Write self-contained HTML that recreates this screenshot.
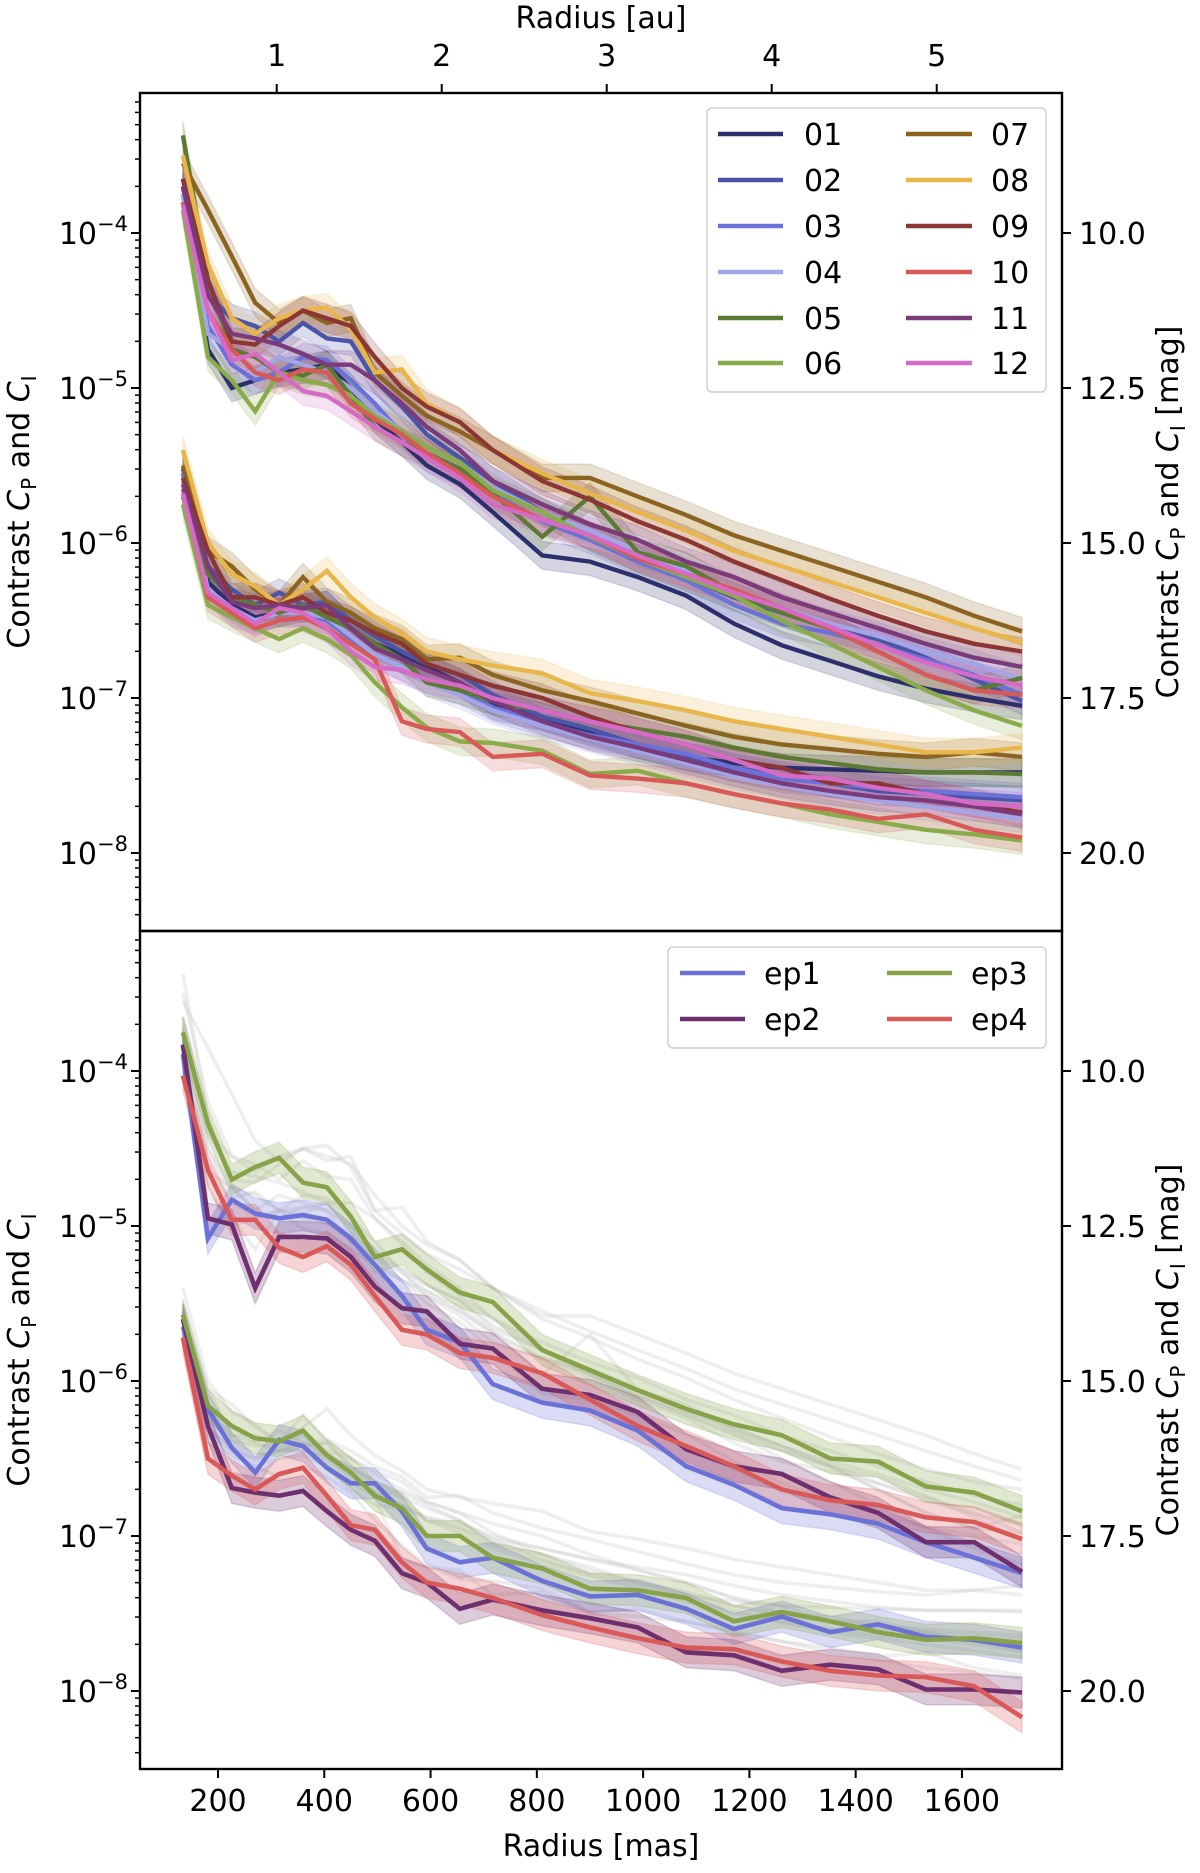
<!DOCTYPE html>
<html><head><meta charset="utf-8">
<style>
html,body{margin:0;padding:0;background:#fff;}
svg text{font-family:"DejaVu Sans","Liberation Sans",sans-serif;fill:#000;}
</style></head>
<body>
<svg id="chart" width="1200" height="1868" viewBox="0 0 1200 1868" xmlns="http://www.w3.org/2000/svg">
<defs>
<clipPath id="clipTop"><rect x="140" y="93" width="922" height="838"/></clipPath>
<clipPath id="clipBot"><rect x="140" y="931" width="922" height="838"/></clipPath>
</defs>
<g id="gTop" clip-path="url(#clipTop)"></g>
<g id="gBot" clip-path="url(#clipBot)"></g>
<g id="axes"></g>
<g id="legends"></g>
</svg>
<script>
// ---- data ----
const radiiMas = [134,181,226,270,315,360,405,450,495,546,593,655,717,810,900,990,1081,1171,1261,1352,1442,1532,1623,1713];
const seriesNames = ["01","02","03","04","05","06","07","08","09","10","11","12"];
const seriesColors = ["#2b2f6b","#4a55a8","#6a72d8","#a3a6e6","#5c7a33","#8aab4a","#8b6422","#e8b64a","#8b3535","#d95858","#7b3a7a","#d66ac6"];
// log10 contrast, upper curves (C_P)
const up01 = [-3.75,-4.75,-5.00,-4.95,-4.90,-4.88,-4.85,-5.00,-5.20,-5.35,-5.50,-5.62,-5.80,-6.08,-6.12,-6.22,-6.34,-6.52,-6.66,-6.76,-6.86,-6.94,-7.00,-7.05];
const up02 = [-3.65,-4.40,-4.55,-4.60,-4.70,-4.58,-4.68,-4.70,-4.95,-5.12,-5.30,-5.45,-5.60,-5.80,-5.96,-6.10,-6.22,-6.35,-6.45,-6.55,-6.62,-6.74,-6.88,-7.02];
const up03 = [-3.70,-4.60,-4.85,-4.95,-4.90,-4.80,-4.82,-4.95,-5.10,-5.30,-5.45,-5.55,-5.68,-5.86,-5.98,-6.12,-6.24,-6.40,-6.52,-6.58,-6.66,-6.75,-6.85,-6.98];
const up04 = [-3.75,-4.65,-4.75,-4.90,-4.80,-4.85,-4.90,-5.00,-5.15,-5.28,-5.38,-5.48,-5.64,-5.80,-5.92,-6.05,-6.18,-6.30,-6.42,-6.52,-6.60,-6.70,-6.78,-6.88];
const up05 = [-3.37,-4.30,-4.75,-4.80,-4.90,-4.92,-4.85,-5.05,-5.25,-5.35,-5.42,-5.52,-5.68,-5.96,-5.70,-6.06,-6.15,-6.32,-6.45,-6.55,-6.70,-6.85,-6.95,-6.87];
const up06 = [-3.85,-4.80,-4.95,-5.15,-4.90,-4.95,-4.98,-5.05,-5.18,-5.28,-5.38,-5.48,-5.66,-5.80,-5.96,-6.10,-6.22,-6.34,-6.50,-6.65,-6.80,-6.95,-7.08,-7.18];
const up07 = [-3.55,-3.85,-4.15,-4.45,-4.58,-4.50,-4.58,-4.55,-4.90,-5.05,-5.18,-5.28,-5.40,-5.58,-5.58,-5.70,-5.82,-5.95,-6.05,-6.15,-6.25,-6.35,-6.47,-6.57];
const up08 = [-3.50,-4.20,-4.55,-4.65,-4.55,-4.50,-4.48,-4.62,-4.90,-4.88,-5.10,-5.22,-5.40,-5.55,-5.68,-5.80,-5.92,-6.05,-6.15,-6.25,-6.35,-6.45,-6.55,-6.64];
const up09 = [-3.65,-4.30,-4.70,-4.72,-4.60,-4.50,-4.55,-4.60,-4.80,-5.00,-5.12,-5.22,-5.40,-5.60,-5.72,-5.86,-5.98,-6.12,-6.24,-6.36,-6.47,-6.57,-6.65,-6.70];
const up10 = [-3.80,-4.50,-4.75,-4.90,-4.95,-4.88,-4.90,-5.10,-5.20,-5.30,-5.42,-5.55,-5.70,-5.85,-5.95,-6.10,-6.20,-6.30,-6.42,-6.55,-6.70,-6.85,-6.95,-6.98];
const up11 = [-3.70,-4.40,-4.65,-4.68,-4.72,-4.78,-4.85,-4.85,-4.95,-5.10,-5.25,-5.40,-5.60,-5.75,-5.88,-5.98,-6.12,-6.22,-6.35,-6.45,-6.55,-6.65,-6.74,-6.80];
const up12 = [-3.82,-4.50,-4.82,-4.78,-4.90,-5.02,-5.05,-5.15,-5.25,-5.35,-5.45,-5.58,-5.75,-5.85,-5.95,-6.08,-6.20,-6.32,-6.42,-6.54,-6.66,-6.77,-6.86,-6.92];
// lower curves (C_I)
const lo01 = [-5.55,-6.25,-6.40,-6.48,-6.45,-6.42,-6.40,-6.55,-6.65,-6.72,-6.80,-6.90,-7.05,-7.12,-7.22,-7.30,-7.38,-7.42,-7.45,-7.46,-7.47,-7.48,-7.48,-7.48];
const lo02 = [-5.52,-6.15,-6.30,-6.40,-6.32,-6.40,-6.38,-6.50,-6.60,-6.70,-6.78,-6.85,-6.98,-7.12,-7.20,-7.30,-7.38,-7.45,-7.50,-7.55,-7.60,-7.62,-7.64,-7.66];
const lo03 = [-5.55,-6.30,-6.45,-6.50,-6.45,-6.45,-6.50,-6.62,-6.72,-6.80,-6.88,-6.95,-7.06,-7.16,-7.24,-7.30,-7.36,-7.45,-7.52,-7.55,-7.58,-7.60,-7.62,-7.64];
const lo04 = [-5.60,-6.30,-6.42,-6.50,-6.45,-6.45,-6.48,-6.60,-6.72,-6.80,-6.90,-6.98,-7.08,-7.18,-7.26,-7.34,-7.42,-7.50,-7.56,-7.62,-7.66,-7.70,-7.74,-7.78];
const lo05 = [-5.70,-6.20,-6.35,-6.40,-6.45,-6.40,-6.48,-6.55,-6.65,-6.75,-6.90,-6.95,-7.02,-7.08,-7.15,-7.20,-7.25,-7.32,-7.38,-7.42,-7.46,-7.48,-7.48,-7.49];
const lo06 = [-5.75,-6.40,-6.48,-6.55,-6.62,-6.55,-6.62,-6.72,-6.90,-7.06,-7.19,-7.28,-7.29,-7.34,-7.49,-7.47,-7.55,-7.62,-7.68,-7.75,-7.80,-7.85,-7.88,-7.92];
const lo07 = [-5.50,-6.05,-6.15,-6.30,-6.40,-6.22,-6.38,-6.45,-6.55,-6.62,-6.75,-6.74,-6.85,-6.95,-7.02,-7.10,-7.18,-7.25,-7.30,-7.33,-7.36,-7.38,-7.35,-7.38];
const lo08 = [-5.40,-6.00,-6.20,-6.28,-6.40,-6.30,-6.18,-6.35,-6.48,-6.58,-6.70,-6.75,-6.79,-6.84,-6.97,-7.02,-7.08,-7.15,-7.20,-7.25,-7.30,-7.35,-7.35,-7.32];
const lo09 = [-5.58,-6.05,-6.35,-6.35,-6.40,-6.35,-6.45,-6.50,-6.58,-6.65,-6.78,-6.85,-6.92,-7.00,-7.12,-7.22,-7.30,-7.40,-7.45,-7.55,-7.55,-7.62,-7.68,-7.74];
const lo10 = [-5.65,-6.35,-6.45,-6.55,-6.50,-6.48,-6.55,-6.65,-6.75,-7.15,-7.20,-7.22,-7.38,-7.36,-7.50,-7.52,-7.55,-7.62,-7.68,-7.72,-7.78,-7.75,-7.85,-7.90];
const lo11 = [-5.62,-6.15,-6.38,-6.42,-6.40,-6.42,-6.40,-6.55,-6.68,-6.75,-6.82,-6.90,-7.02,-7.15,-7.25,-7.32,-7.40,-7.48,-7.55,-7.60,-7.64,-7.66,-7.70,-7.75];
const lo12 = [-5.68,-6.32,-6.42,-6.52,-6.42,-6.45,-6.55,-6.70,-6.80,-6.82,-6.88,-6.92,-7.00,-7.08,-7.15,-7.22,-7.30,-7.40,-7.50,-7.52,-7.58,-7.62,-7.68,-7.70];
const upperSeries = [up01,up02,up03,up04,up05,up06,up07,up08,up09,up10,up11,up12];
const lowerSeries = [lo01,lo02,lo03,lo04,lo05,lo06,lo07,lo08,lo09,lo10,lo11,lo12];
// epochs (bottom panel)
const epochNames = ["ep1","ep2","ep3","ep4"];
const epochColors = ["#6a72d8","#6e2f6e","#86a34a","#d95858"];
const ep1Up = [-3.89,-5.08,-4.83,-4.92,-4.95,-4.93,-4.96,-5.08,-5.25,-5.45,-5.67,-5.75,-6.02,-6.14,-6.19,-6.32,-6.55,-6.67,-6.82,-6.86,-6.92,-7.04,-7.14,-7.24];
const ep2Up = [-3.83,-4.95,-4.99,-5.40,-5.07,-5.07,-5.08,-5.20,-5.39,-5.53,-5.55,-5.76,-5.79,-6.05,-6.09,-6.20,-6.44,-6.55,-6.60,-6.75,-6.85,-7.04,-7.04,-7.23];
const ep3Up = [-3.75,-4.34,-4.70,-4.62,-4.56,-4.72,-4.75,-4.94,-5.20,-5.15,-5.28,-5.43,-5.49,-5.80,-5.93,-6.06,-6.18,-6.28,-6.35,-6.50,-6.52,-6.68,-6.72,-6.84];
const ep4Up = [-4.03,-4.64,-4.96,-4.96,-5.14,-5.20,-5.13,-5.25,-5.45,-5.67,-5.70,-5.82,-5.85,-5.95,-6.12,-6.29,-6.42,-6.55,-6.70,-6.77,-6.80,-6.88,-6.91,-7.02];
const ep1Lo = [-5.65,-6.18,-6.43,-6.59,-6.38,-6.42,-6.56,-6.66,-6.66,-6.84,-7.08,-7.17,-7.14,-7.29,-7.39,-7.38,-7.47,-7.60,-7.52,-7.62,-7.57,-7.65,-7.67,-7.72];
const ep2Lo = [-5.60,-6.29,-6.69,-6.72,-6.74,-6.71,-6.84,-6.96,-7.03,-7.24,-7.30,-7.47,-7.41,-7.48,-7.53,-7.59,-7.75,-7.77,-7.87,-7.83,-7.86,-7.99,-7.99,-8.01];
const ep3Lo = [-5.57,-6.16,-6.29,-6.37,-6.39,-6.32,-6.48,-6.59,-6.74,-6.82,-7.00,-7.00,-7.14,-7.21,-7.34,-7.35,-7.40,-7.55,-7.49,-7.55,-7.62,-7.67,-7.66,-7.69];
const ep4Lo = [-5.72,-6.50,-6.61,-6.70,-6.60,-6.56,-6.74,-6.93,-6.96,-7.17,-7.30,-7.34,-7.40,-7.51,-7.59,-7.66,-7.72,-7.73,-7.81,-7.87,-7.90,-7.91,-7.97,-8.17];
const epochUpper = [ep1Up,ep2Up,ep3Up,ep4Up];
const epochLower = [ep1Lo,ep2Lo,ep3Lo,ep4Lo];
const bandDexTop = 0.09;
const bandDexEp = 0.1;
const xTicksMas = [200,400,600,800,1000,1200,1400,1600];
const xTicksAu = [1,2,3,4,5];
const masPerAu = 310.5;
const yDecades = [-4,-5,-6,-7,-8];
const magLabels = ["10.0","12.5","15.0","17.5","20.0"];

// ---- scales ----
const NS = "http://www.w3.org/2000/svg";
function xScale(mas){ return 218 + (mas - 200) * 0.5314; }
function yTop(lg){ return 233 + (-4 - lg) * 155; }
function yBot(lg){ return 1071 + (-4 - lg) * 155; }
function mk(tag, attrs, parent){
  const e = document.createElementNS(NS, tag);
  for (const k in attrs) e.setAttribute(k, attrs[k]);
  parent.appendChild(e); return e;
}
function linePath(vals, ys){
  return vals.map((v,i)=>(i?"L":"M")+xScale(radiiMas[i]).toFixed(1)+","+ys(v).toFixed(1)).join("");
}
function bandPath(vals, ys, d){
  let p = vals.map((v,i)=>(i?"L":"M")+xScale(radiiMas[i]).toFixed(1)+","+ys(v+d).toFixed(1)).join("");
  for (let i=vals.length-1;i>=0;i--) p += "L"+xScale(radiiMas[i]).toFixed(1)+","+ys(vals[i]-d).toFixed(1);
  return p+"Z";
}
const gTop = document.getElementById("gTop");
const gBot = document.getElementById("gBot");
const axes = document.getElementById("axes");
const legends = document.getElementById("legends");

// ---- top panel ----
[upperSeries, lowerSeries].forEach((set, s)=>{
  set.forEach((vals,k)=>{
    const b = mk("path",{d:bandPath(vals,yTop,bandDexTop),fill:seriesColors[k],"fill-opacity":0.2,stroke:seriesColors[k],"stroke-opacity":0.15,"stroke-width":1.5},gTop);
    
    
  });
});
[upperSeries, lowerSeries].forEach((set, s)=>{
  set.forEach((vals,k)=>{
    const l = mk("path",{d:linePath(vals,yTop),fill:"none",stroke:seriesColors[k],"stroke-width":4.4,"stroke-linejoin":"miter"},gTop);
    
    
  });
});

// ---- bottom panel: grey background of individual observations ----
[upperSeries, lowerSeries].forEach((set, s)=>{
  set.forEach((vals,k)=>{
    const l = mk("path",{d:linePath(vals,yBot),fill:"none",stroke:"#c8c8c8","stroke-opacity":0.3,"stroke-width":3.5},gBot);
    
    
  });
});
[epochUpper, epochLower].forEach((set,s)=>{
  set.forEach((vals,k)=>{
    const b = mk("path",{d:bandPath(vals,yBot,bandDexEp),fill:epochColors[k],"fill-opacity":0.25,stroke:epochColors[k],"stroke-opacity":0.2,"stroke-width":1.5},gBot);
    
    
  });
});
[epochUpper, epochLower].forEach((set,s)=>{
  set.forEach((vals,k)=>{
    const l = mk("path",{d:linePath(vals,yBot),fill:"none",stroke:epochColors[k],"stroke-width":4.6},gBot);
    
    
  });
});

// ---- axes ----
function txt(x,y,str,opts,parent,name){
  const t = mk("text",Object.assign({x:x,y:y,"font-size":30},opts||{}),parent);
  t.textContent = str;
  
  
  return t;
}
function sup(x,y,exp,parent,name){
  const t = mk("text",{x:x,y:y,"font-size":30,"text-anchor":"end"},parent);
  
  
  const a = mk("tspan",{},t); a.textContent = "10";
  const b = mk("tspan",{dy:-13,"font-size":21}, t); b.textContent = "\u2212"+exp;
}
[[93,931,yTop,"top"],[931,1769,yBot,"bottom"]].forEach(([t,b,ys,nm])=>{
  const frame = mk("rect",{x:140,y:t,width:922,height:b-t,fill:"none",stroke:"#000","stroke-width":2.4},axes);
  
  
  for (let d=-3; d>=-9; d--){
    for (let m=2;m<=9;m++){
      const lg = d + Math.log10(m) - 1;
      const y = ys(lg);
      if (y>t+1 && y<b-1){ mk("line",{x1:140,x2:135,y1:y,y2:y,stroke:"#000","stroke-width":1.5},axes); }
    }
  }
  yDecades.forEach((d,i)=>{
    const y = ys(d);
    mk("line",{x1:140,x2:131,y1:y,y2:y,stroke:"#000","stroke-width":2},axes);
    mk("line",{x1:1062,x2:1071,y1:y,y2:y,stroke:"#000","stroke-width":2},axes);
    sup(128,y+11,String(-d),axes,nm+'-y-tick-label-'+(-d));
    txt(1079,y+11,magLabels[i],{},axes,nm+'-mag-tick-label-'+magLabels[i]);
  });
  const cy = (t+b)/2;
  const yl = mk("text",{x:0,y:0,"font-size":30,"text-anchor":"middle",transform:"translate(29,"+cy+") rotate(-90)"},axes);
  
  
  yl.innerHTML = 'Contrast <tspan font-style="italic">C</tspan><tspan font-size="20" dy="7">P</tspan><tspan dy="-7"> and </tspan><tspan font-style="italic">C</tspan><tspan font-size="20" dy="7">I</tspan>';
  const yr = mk("text",{x:0,y:0,"font-size":30,"text-anchor":"middle",transform:"translate(1178,"+cy+") rotate(-90)"},axes);
  
  
  yr.innerHTML = 'Contrast <tspan font-style="italic">C</tspan><tspan font-size="20" dy="7">P</tspan><tspan dy="-7"> and </tspan><tspan font-style="italic">C</tspan><tspan font-size="20" dy="7">I</tspan><tspan dy="-7"> [mag]</tspan>';
});
xTicksMas.forEach(v=>{
  const x = xScale(v);
  mk("line",{x1:x,x2:x,y1:1769,y2:1778,stroke:"#000","stroke-width":2},axes);
  txt(x,1811,String(v),{"text-anchor":"middle"},axes,'x-tick-label-'+v);
});
xTicksAu.forEach(v=>{
  const x = xScale(v*masPerAu);
  mk("line",{x1:x,x2:x,y1:93,y2:84,stroke:"#000","stroke-width":2},axes);
  txt(x,66,String(v),{"text-anchor":"middle"},axes,'au-tick-label-'+v);
});
txt(601,1856,"Radius [mas]",{"text-anchor":"middle","font-size":30},axes,'x-axis-title');
txt(601,28,"Radius [au]",{"text-anchor":"middle","font-size":30},axes,'top-x-axis-title');

// ---- legends ----
function legend(box, names, colors, rows, c1, c2, rowY, nm){
  const r = mk("rect",Object.assign({rx:5,fill:"#fff","fill-opacity":0.85,stroke:"#d0d0d0","stroke-width":1.5},box),legends);
  
  
  names.forEach((n,i)=>{
    const col = Math.floor(i/rows), row = i%rows;
    const c = col? c2 : c1;
    const y = rowY[row];
    const g = mk("g",{},legends);
    
    
    mk("line",{x1:c[0],x2:c[1],y1:y,y2:y,stroke:colors[i],"stroke-width":4.5},g);
    const t = mk("text",{x:c[2],y:y+11,"font-size":30},g); t.textContent = n;
  });
}
legend({x:707,y:108,width:339,height:284}, seriesNames, seriesColors, 6, [718,783,804],[906,972,991],[134,180,226,272,318,363],'top-legend');
legend({x:668,y:947,width:378,height:101}, epochNames, epochColors, 2, [680,745,764],[887,952,971],[973,1019],'bottom-legend');
</script>
</body></html>
